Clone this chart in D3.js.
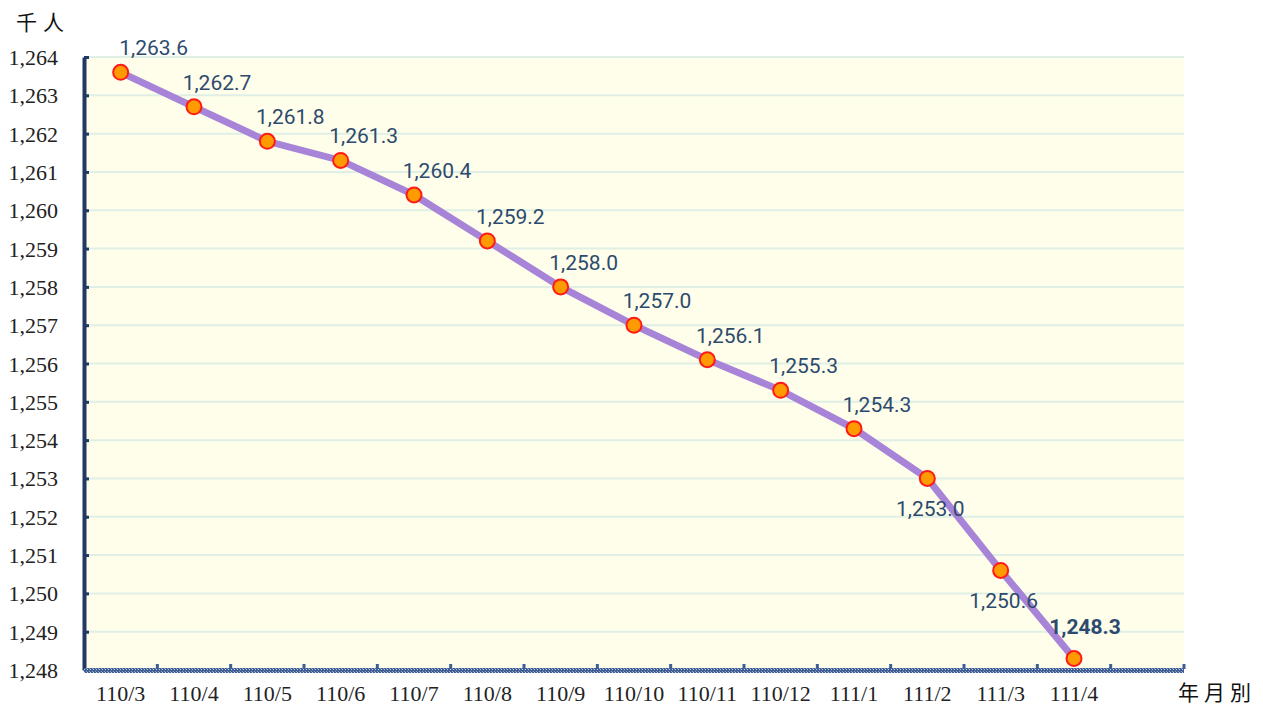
<!DOCTYPE html>
<html>
<head>
<meta charset="utf-8">
<script src="https://cdn.jsdelivr.net/npm/d3@7"></script>
<style>
  body { margin: 0; background: #fff; }
</style>
</head>
<body>
<div id="chart"></div>
<script>
var width = 1263, height = 707;

// data
var months = ['110/3', '110/4', '110/5', '110/6', '110/7', '110/8', '110/9', '110/10',
              '110/11', '110/12', '111/1', '111/2', '111/3', '111/4', ''];
var people = [1263.6, 1262.7, 1261.8, 1261.3, 1260.4, 1259.2, 1258.0, 1257.0,
              1256.1, 1255.3, 1254.3, 1253.0, 1250.6, 1248.3];
var yTicks = [1248, 1249, 1250, 1251, 1252, 1253, 1254, 1255, 1256, 1257, 1258, 1259, 1260, 1261, 1262, 1263, 1264];
var labelBelow = ['1,253.0', '1,250.6'];

var plotLeft = 84, plotRight = 1184, plotTop = 57, plotBottom = 670;

var svg = d3.select('#chart').append('svg')
            .attr('width', width).attr('height', height);

var defs = svg.append('defs');
var hatch = defs.append('pattern').attr('id', 'hatch')
    .attr('width', 3).attr('height', 3).attr('patternUnits', 'userSpaceOnUse');
hatch.append('rect').attr('width', 3).attr('height', 3).attr('fill', '#3f5f94');
hatch.append('rect').attr('width', 1).attr('height', 1).attr('fill', '#c9d3e6');
hatch.append('rect').attr('x', 2).attr('y', 2).attr('width', 1).attr('height', 1).attr('fill', '#8ea0c4');

var x = d3.scaleBand().domain(months).range([plotLeft, plotRight]).padding(0);
var y = d3.scaleLinear().domain([1248, 1264]).range([plotBottom, plotTop]);

// plot background
svg.append('rect')
    .attr('x', plotLeft).attr('y', plotTop)
    .attr('width', plotRight - plotLeft).attr('height', plotBottom - plotTop)
    .attr('fill', '#fefeea');

// grid
svg.append('g').selectAll('line').data(yTicks.slice(1)).enter().append('line')
    .attr('x1', plotLeft).attr('x2', plotRight)
    .attr('y1', function(d){ return y(d); })
    .attr('y2', function(d){ return y(d); })
    .attr('stroke', '#dfefe6').attr('stroke-width', 2);

// y axis
var yAxis = svg.append('g')
    .attr('transform', 'translate(' + plotLeft + ',0)')
    .call(d3.axisRight(y).tickValues(yTicks).tickSize(5).tickFormat('').tickSizeOuter(0));
yAxis.select('.domain').attr('stroke', '#1f3864').attr('stroke-width', 4);
yAxis.selectAll('.tick line').attr('stroke', '#1f3864').attr('stroke-width', 3);

svg.append('g').selectAll('text').data(yTicks).enter().append('text')
    .attr('x', 58)
    .attr('y', function(d){ return y(d) + 8; })
    .attr('text-anchor', 'end')
    .attr('font-family', 'Liberation Serif, serif')
    .attr('font-size', '22px')
    .attr('fill', '#222')
    .text(d3.format(','));

// x axis
svg.append('rect')
    .attr('x', plotLeft).attr('y', plotBottom - 2)
    .attr('width', plotRight - plotLeft).attr('height', 5)
    .attr('fill', 'url(#hatch)');
svg.append('g').selectAll('rect').data(months).enter().append('rect')
    .attr('x', function(d){ return x(d) + x.step() - 1.5; })
    .attr('y', plotBottom - 6)
    .attr('width', 3).attr('height', 5)
    .attr('fill', '#3f5f94');

svg.append('g').selectAll('text').data(months).enter().append('text')
    .attr('x', function(d){ return x(d) + x.bandwidth() / 2; })
    .attr('y', 701)
    .attr('text-anchor', 'middle')
    .attr('font-family', 'Liberation Serif, serif')
    .attr('font-size', '22px')
    .attr('fill', '#222')
    .text(function(d){ return d; });

// axis titles
svg.append('text').attr('x', 16).attr('y', 30)
    .attr('font-family', 'Noto Sans CJK TC, sans-serif')
    .attr('font-size', '21px').attr('letter-spacing', '6px')
    .attr('fill', '#111').text('千人');
svg.append('text').attr('x', 1178).attr('y', 700)
    .attr('font-family', 'Noto Sans CJK TC, sans-serif')
    .attr('font-size', '21px').attr('letter-spacing', '5px')
    .attr('fill', '#111').text('年月別');

// line
var cx = function(d, i){ return x(months[i]) + x.bandwidth() / 2; };
var line = d3.line().x(cx).y(function(d){ return y(d); });

svg.append('path').datum(people)
    .attr('d', line)
    .attr('fill', 'none')
    .attr('stroke', '#a784d8')
    .attr('stroke-width', 7);

svg.append('g').selectAll('circle').data(people).enter().append('circle')
    .attr('cx', cx)
    .attr('cy', function(d){ return y(d); })
    .attr('r', 7.5)
    .attr('fill', '#ff9a00')
    .attr('stroke', '#ff1a1a')
    .attr('stroke-width', 2);

// data labels
var fmt = d3.format(',.1f');
svg.append('g').selectAll('text').data(people).enter().append('text')
    .attr('x', function(d, i){
      var s = fmt(d);
      if(labelBelow.indexOf(s) >= 0) return cx(d, i) + 3;
      if(i === people.length - 1) return cx(d, i) + 11;
      if(i === 0) return cx(d, i) + 33;
      return cx(d, i) + 23;
    })
    .attr('y', function(d, i){
      var s = fmt(d);
      if(labelBelow.indexOf(s) >= 0) return y(d) + 38;
      if(i === 0) return y(d) - 17;
      if(i === people.length - 1) return y(d) - 25;
      return y(d) - 17;
    })
    .attr('text-anchor', 'middle')
    .attr('font-family', 'Liberation Sans Narrow, Roboto, sans-serif')
    .attr('font-size', '21px')
    .attr('font-weight', function(d, i){ return i === people.length - 1 ? 'bold' : 'normal'; })
    .attr('fill', '#2d4a6e')
    .text(fmt);
</script>
</body>
</html>
